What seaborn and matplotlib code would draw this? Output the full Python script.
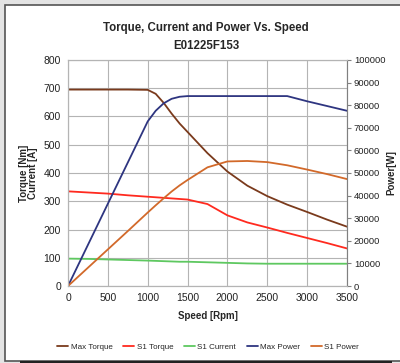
"""Torque / Current / Power vs. Speed chart (E01225F153)."""

import matplotlib

matplotlib.use("Agg")

import matplotlib.pyplot as plt
import pandas as pd
import seaborn as sns
from matplotlib.patches import Rectangle

# データ
speed = [0, 250, 500, 750, 1000, 1100, 1200, 1300, 1400, 1500,
         1750, 2000, 2250, 2500, 2750, 3000, 3250, 3500]
max_torque = [695, 695, 695, 695, 694, 680, 648, 610, 575, 545,
              470, 405, 355, 318, 288, 262, 235, 210]
s1_torque = [335, 331, 327, 321, 316, 314, 312, 310, 308, 306,
             290, 250, 225, 207, 188, 170, 152, 133]
s1_current = [97, 96, 94, 92, 90, 89, 88, 87, 86, 86,
              84, 82, 80, 79, 79, 79, 79, 79]
max_power = [0, 18200, 36400, 54600, 72800, 77500, 80800, 82800, 83700, 84000,
             84000, 84000, 84000, 84000, 84000, 81700, 79600, 77500]
s1_power = [0, 8100, 16200, 24300, 32500, 35700, 38800, 41800, 44500, 46900,
            52500, 55100, 55300, 54800, 53400, 51500, 49500, 47300]

colors = {
    "Max Torque": "#7a3a1c",
    "S1 Torque": "#ff2a1f",
    "S1 Current": "#5ec860",
    "Max Power": "#2e3580",
    "S1 Power": "#d2692a",
}

df = pd.DataFrame({
    "Speed": speed,
    "Max Torque": max_torque,
    "S1 Torque": s1_torque,
    "S1 Current": s1_current,
    "Max Power": max_power,
    "S1 Power": s1_power,
})

sns.set_style("white")
plt.rcParams["font.family"] = ["Liberation Sans", "DejaVu Sans"]

fig = plt.figure(figsize=(4.0, 3.63), dpi=100)
fig.patch.set_facecolor("white")

# 外枠（スクリーンショット風の枠）
fig.patches.append(Rectangle((0, 0), 1, 1, transform=fig.transFigure,
                             facecolor="#e4e4e4", edgecolor="none", zorder=-3))
fig.patches.append(Rectangle((0.012, 0.006), 1.1, 0.98, transform=fig.transFigure,
                             facecolor="white", edgecolor="#555555", linewidth=1.2,
                             zorder=-2))
fig.patches.append(Rectangle((0.05, 0.0), 0.93, 0.006, transform=fig.transFigure,
                             facecolor="#222222", edgecolor="none", zorder=-1))

ax = fig.add_axes([0.17, 0.212, 0.6975, 0.623])
ax2 = ax.twinx()

for name in ["Max Torque", "S1 Torque", "S1 Current"]:
    sns.lineplot(data=df, x="Speed", y=name, ax=ax, color=colors[name],
                 linewidth=1.3, label=name, legend=False)
for name in ["Max Power", "S1 Power"]:
    sns.lineplot(data=df, x="Speed", y=name, ax=ax2, color=colors[name],
                 linewidth=1.3, label=name, legend=False)

ax.set_xlim(0, 3500)
ax.set_ylim(0, 800)
ax2.set_ylim(0, 100000)
ax.set_xticks(range(0, 3501, 500))
ax.set_yticks(range(0, 801, 100))
ax2.set_yticks(range(0, 100001, 10000))

ax.grid(True, color="#b4b4b4", linewidth=0.8)
ax.set_axisbelow(True)
for sp in ax.spines.values():
    sp.set_color("#b4b4b4")
for sp in ax2.spines.values():
    sp.set_color("#b4b4b4")
ax2.spines["right"].set_color("#808080")

ax.tick_params(axis="both", labelsize=7.5, length=0, pad=5, colors="#222222")
ax2.tick_params(axis="y", labelsize=6.8, length=3, pad=2, colors="#222222",
                color="#808080")

ax.set_xlabel("Speed [Rpm]", fontsize=7, fontweight="bold", labelpad=6)
ax.set_ylabel("Torque [Nm]\nCurrent [A]", fontsize=7, fontweight="bold",
              labelpad=4, linespacing=0.95)
ax2.set_ylabel("Power[W]", fontsize=7, fontweight="bold", labelpad=1)

fig.text(0.515, 0.922, "Torque, Current and Power Vs. Speed", ha="center",
         va="center", fontsize=8.3, fontweight="bold")
fig.text(0.515, 0.873, "E01225F153", ha="center", va="center",
         fontsize=8.3, fontweight="bold")

h1, l1 = ax.get_legend_handles_labels()
h2, l2 = ax2.get_legend_handles_labels()
fig.legend(h1 + h2, l1 + l2, loc="center", bbox_to_anchor=(0.52, 0.044),
           ncol=5, frameon=False, fontsize=5.8, handlelength=1.4,
           handletextpad=0.3, columnspacing=1.3)

fig.savefig("out.png", dpi=100)
plt.close(fig)
